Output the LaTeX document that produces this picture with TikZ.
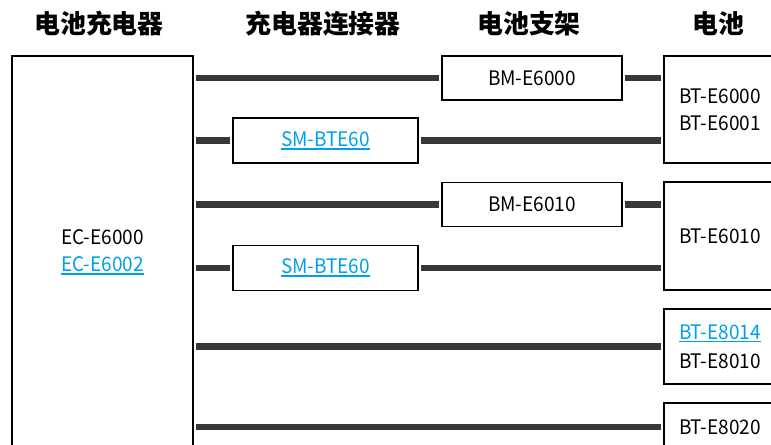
\documentclass[tikz,border=0pt]{standalone}
\usepackage{fontspec}
\setmainfont{Noto Sans CJK SC}
\usepackage{xcolor}
\usetikzlibrary{calc}
\definecolor{linkblue}{RGB}{0,160,233}
\definecolor{cablegray}{RGB}{56,56,56}
\newsavebox\linkbox
\newcommand\linktext[1]{\sbox\linkbox{\color{linkblue}#1}\rlap{\usebox\linkbox}\textcolor{linkblue}{\rule[-2.6pt]{\wd\linkbox}{1.4pt}}}

\begin{document}
\begin{tikzpicture}[x=0.75pt,y=0.75pt,yscale=-1,xscale=1,
	header/.style={font=\fontsize{19.4}{22}\selectfont\bfseries},
	unit/.style={draw=black,line width=1.1pt,font=\fontsize{15}{20}\selectfont\addfontfeature{FakeStretch=0.95},inner sep=0pt,align=center},
	battery/.style={unit,align=left,text width=73.5pt,inner xsep=11.25pt,minimum width=96pt},
	cable/.style={draw=cablegray,line width=4.9pt,shorten <=1.5pt,shorten >=1.5pt}]
			\useasboundingbox (0,0) rectangle (771,445);
			
			% Text Node: column headers
			\node [header] (hcharger) at (99,24) {电池充电器};
			\node [header] (hadapter) at (323,24) {充电器连接器};
			\node [header] (hmount) at (529,24) {电池支架};
			\node [header] (hbattery) at (718,24) {电池};
			
			%Shape: Rectangle, charger
			\node [unit,minimum width=135.75pt,minimum height=294pt] (charger) at (102.5,252) {EC-E6000\\\linktext{EC-E6002}};
			
			%Shape: Rectangle, battery mounts
			\node [unit,minimum width=135pt,minimum height=33pt] (bm1) at (532,78) {BM-E6000};
			\node [unit,minimum width=135pt,minimum height=33pt] (bm2) at (532,204.5) {BM-E6010};
			
			%Shape: Rectangle, charger adapters
			\node [unit,minimum width=138.75pt,minimum height=33.75pt] (sm1) at (325.5,140.5) {\linktext{SM-BTE60}};
			\node [unit,minimum width=138.75pt,minimum height=33.75pt] (sm2) at (325.5,268) {\linktext{SM-BTE60}};
			
			%Shape: Rectangle, batteries
			\node [battery,minimum height=80.25pt] (bat1) at (728,109.5) {BT-E6000\\BT-E6001};
			\node [battery,minimum height=81pt] (bat2) at (728,236) {BT-E6010};
			\node [battery,minimum height=56.25pt] (bat3) at (728,346.5) {\linktext{BT-E8014}\\[2pt]BT-E8010};
			\node [battery,minimum height=36pt] (bat4) at (728,427) {BT-E8020};
			
			%Straight Lines: cables
			\foreach \via/\bat in {bm1/bat1,sm1/bat1,bm2/bat2,sm2/bat2} {
				\draw [cable] (\via.west -| charger.east) -- (\via.west);
				\draw [cable] (\via.east) -- (\via.east -| \bat.west);
			}
			\draw [cable] (bat3.west -| charger.east) -- (bat3.west);
			\draw [cable] (bat4.west -| charger.east) -- (bat4.west);
			
		\end{tikzpicture}
\end{document}
